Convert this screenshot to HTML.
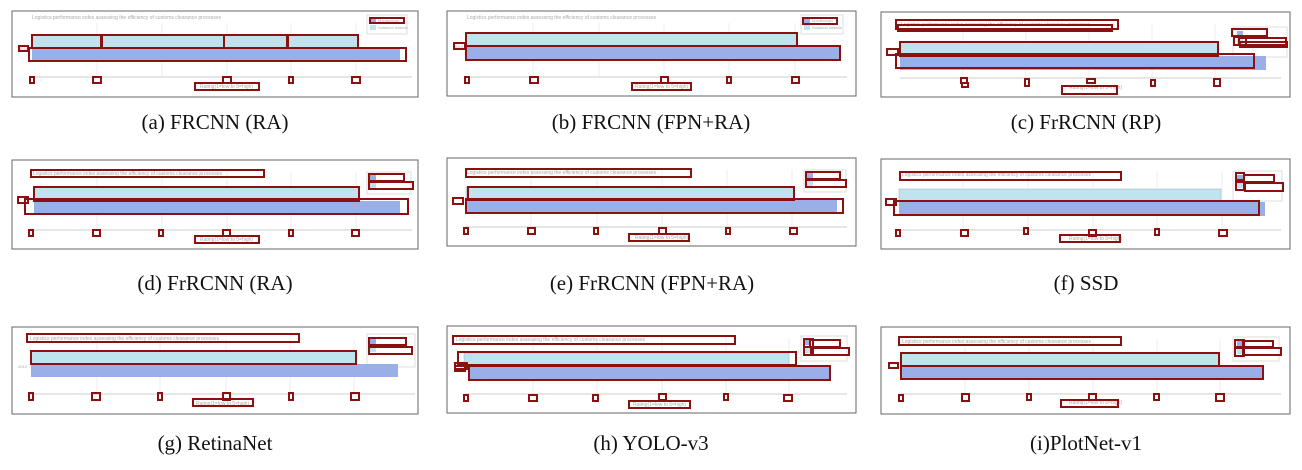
<!DOCTYPE html>
<html><head><meta charset="utf-8"><style>
html,body{margin:0;padding:0;background:#fff;width:1302px;height:470px;overflow:hidden}
svg{display:block}
.t{font-family:"Liberation Sans",sans-serif;fill:#aaa}
.cap{font-family:"Liberation Serif",serif;font-size:21px;fill:#111}
.r{fill:none;stroke:#8b1010;stroke-width:2}
</style></head><body>
<svg width="1302" height="470" viewBox="0 0 1302 470" xmlns="http://www.w3.org/2000/svg">
<!-- PANEL a -->
<g transform="translate(12,11)">
<rect x="0" y="0" width="406" height="86" fill="#fff" stroke="#666"/>
<g stroke="#eee"><line x1="85" y1="12" x2="85" y2="66"/><line x1="150" y1="12" x2="150" y2="66"/><line x1="215" y1="12" x2="215" y2="66"/><line x1="279" y1="12" x2="279" y2="66"/><line x1="344" y1="12" x2="344" y2="66"/></g>
<line x1="19" y1="66" x2="400" y2="66" stroke="#ccc"/>
<text class="t" x="20" y="8" font-size="5">Logistics performance index assessing the efficiency of customs clearance processes</text>
<rect x="355" y="4" width="40" height="19" fill="#fff" stroke="#ddd"/><rect x="358" y="7" width="6" height="5" fill="#9aaee8"/><rect x="358" y="14" width="6" height="5" fill="#bfe3ef"/>
<text class="t" x="366" y="11" font-size="4">Montenegro</text><text class="t" x="366" y="18" font-size="4">Solomon Islands</text>
<rect x="20" y="24" width="326" height="13" fill="#bfe3ef" stroke="#aaa" stroke-width=".5"/><rect x="20" y="37" width="368" height="13" fill="#9aaee8"/>
<text class="t" x="7" y="39" font-size="4">2014</text>
<text class="t" x="188" y="77" font-size="5">Rating(1=low to 5=high)</text>
<g class="r"><rect x="20" y="24" width="69" height="13"/><rect x="90" y="24" width="122" height="13"/><rect x="212" y="24" width="63" height="13"/><rect x="276" y="24" width="70" height="13"/><rect x="17" y="37" width="377" height="13"/><rect x="7" y="35" width="9" height="5"/><rect x="358" y="7" width="34" height="5"/>
<rect x="18" y="66" width="4" height="6"/><rect x="81" y="66" width="8" height="6"/><rect x="211" y="66" width="8" height="6"/><rect x="277" y="66" width="4" height="6"/><rect x="340" y="66" width="8" height="6"/><rect x="183" y="72" width="64" height="7"/></g>
</g>
<!-- PANEL b -->
<g transform="translate(447,11)">
<rect x="0" y="0" width="409" height="85" fill="#fff" stroke="#666"/>
<g stroke="#eee"><line x1="86" y1="12" x2="86" y2="66"/><line x1="152" y1="12" x2="152" y2="66"/><line x1="217" y1="12" x2="217" y2="66"/><line x1="282" y1="12" x2="282" y2="66"/><line x1="348" y1="12" x2="348" y2="66"/></g>
<line x1="19" y1="66" x2="400" y2="66" stroke="#ccc"/>
<text class="t" x="20" y="8" font-size="5">Logistics performance index assessing the efficiency of customs clearance processes</text>
<rect x="354" y="4" width="42" height="19" fill="#fff" stroke="#ddd"/><rect x="357" y="7" width="6" height="5" fill="#9aaee8"/><rect x="357" y="14" width="6" height="5" fill="#bfe3ef"/>
<text class="t" x="365" y="11" font-size="4">Montenegro</text><text class="t" x="365" y="18" font-size="4">Solomon Islands</text>
<rect x="19" y="22" width="331" height="13" fill="#bfe3ef" stroke="#aaa" stroke-width=".5"/><rect x="19" y="35" width="374" height="14" fill="#9aaee8"/>
<text class="t" x="7" y="37" font-size="4">2014</text>
<text class="t" x="188" y="77" font-size="5">Rating(1=low to 5=high)</text>
<g class="r"><rect x="19" y="22" width="331" height="13"/><rect x="19" y="35" width="374" height="14"/><rect x="7" y="32" width="11" height="6"/><rect x="356" y="7" width="34" height="6"/>
<rect x="18" y="66" width="4" height="6"/><rect x="83" y="66" width="8" height="6"/><rect x="214" y="66" width="7" height="6"/><rect x="280" y="66" width="4" height="6"/><rect x="345" y="66" width="7" height="6"/><rect x="185" y="72" width="59" height="7"/></g>
</g>
<!-- PANEL c -->
<g transform="translate(881,12)">
<rect x="0" y="0" width="409" height="85" fill="#fff" stroke="#666"/>
<g stroke="#eee"><line x1="82" y1="12" x2="82" y2="66"/><line x1="145" y1="12" x2="145" y2="66"/><line x1="208" y1="12" x2="208" y2="66"/><line x1="271" y1="12" x2="271" y2="66"/><line x1="334" y1="12" x2="334" y2="66"/></g>
<line x1="19" y1="66" x2="400" y2="66" stroke="#ccc"/>
<text class="t" x="20" y="14" font-size="5">Logistics performance index assessing the efficiency of customs clearance processes</text>
<rect x="352" y="15" width="54" height="30" fill="#fff" stroke="#ddd"/><rect x="356" y="19" width="6" height="5" fill="#9aaee8"/><rect x="356" y="27" width="6" height="5" fill="#bfe3ef"/>
<g class="r"><rect x="15" y="8" width="222" height="9"/><rect x="17" y="13" width="214" height="6"/><rect x="351" y="17" width="35" height="7"/><rect x="353" y="25" width="12" height="8"/><rect x="358" y="26" width="47" height="7"/><rect x="359" y="30" width="47" height="5"/></g>
<rect x="19" y="30" width="318" height="14" fill="#bfe3ef" stroke="#aaa" stroke-width=".5"/><rect x="19" y="44" width="366" height="14" fill="#9aaee8"/>
<text class="t" x="188" y="77" font-size="5">Rating(1=low to 5=high)</text>
<g class="r"><rect x="19" y="30" width="318" height="14"/><rect x="15" y="42" width="358" height="14"/><rect x="6" y="37" width="11" height="6"/>
<rect x="80" y="66" width="6" height="5"/><rect x="81" y="71" width="6" height="4"/><rect x="144" y="67" width="4" height="7"/><rect x="206" y="67" width="8" height="4"/><rect x="270" y="68" width="4" height="6"/><rect x="333" y="67" width="6" height="7"/><rect x="181" y="74" width="55" height="8"/></g>
</g>
<!-- PANEL d -->
<g transform="translate(12,160)">
<rect x="0" y="0" width="406" height="89" fill="#fff" stroke="#666"/>
<g stroke="#eee"><line x1="85" y1="12" x2="85" y2="70"/><line x1="150" y1="12" x2="150" y2="70"/><line x1="215" y1="12" x2="215" y2="70"/><line x1="279" y1="12" x2="279" y2="70"/><line x1="344" y1="12" x2="344" y2="70"/></g>
<line x1="19" y1="70" x2="400" y2="70" stroke="#ccc"/>
<text class="t" x="21" y="15" font-size="5">Logistics performance index assessing the efficiency of customs clearance processes</text>
<rect x="355" y="12" width="44" height="22" fill="#fff" stroke="#ddd"/><rect x="358" y="15" width="6" height="5" fill="#9aaee8"/><rect x="358" y="23" width="6" height="5" fill="#bfe3ef"/>
<rect x="22" y="27" width="325" height="14" fill="#bfe3ef" stroke="#aaa" stroke-width=".5"/><rect x="22" y="41" width="366" height="14" fill="#9aaee8"/>
<text class="t" x="188" y="81" font-size="5">Rating(1=low to 5=high)</text>
<g class="r"><rect x="19" y="10" width="233" height="7"/><rect x="357" y="14" width="35" height="7"/><rect x="357" y="22" width="44" height="7"/><rect x="22" y="27" width="325" height="14"/><rect x="13" y="39" width="383" height="15"/><rect x="6" y="37" width="10" height="6"/>
<rect x="17" y="70" width="4" height="6"/><rect x="81" y="70" width="7" height="6"/><rect x="147" y="70" width="4" height="6"/><rect x="211" y="70" width="7" height="6"/><rect x="277" y="70" width="4" height="6"/><rect x="340" y="70" width="7" height="6"/><rect x="183" y="76" width="64" height="7"/></g>
</g>
<!-- PANEL e -->
<g transform="translate(447,158)">
<rect x="0" y="0" width="409" height="88" fill="#fff" stroke="#666"/>
<g stroke="#eee"><line x1="84" y1="12" x2="84" y2="69"/><line x1="150" y1="12" x2="150" y2="69"/><line x1="215" y1="12" x2="215" y2="69"/><line x1="280" y1="12" x2="280" y2="69"/><line x1="345" y1="12" x2="345" y2="69"/></g>
<line x1="18" y1="69" x2="400" y2="69" stroke="#ccc"/>
<text class="t" x="20" y="16" font-size="5">Logistics performance index assessing the efficiency of customs clearance processes</text>
<rect x="357" y="12" width="42" height="22" fill="#fff" stroke="#ddd"/><rect x="360" y="15" width="6" height="5" fill="#9aaee8"/><rect x="360" y="23" width="6" height="5" fill="#bfe3ef"/>
<rect x="19" y="29" width="328" height="13" fill="#bfe3ef" stroke="#aaa" stroke-width=".5"/><rect x="19" y="42" width="371" height="14" fill="#9aaee8"/>
<text class="t" x="188" y="81" font-size="5">Rating(1=low to 5=high)</text>
<g class="r"><rect x="19" y="11" width="225" height="8"/><rect x="359" y="14" width="34" height="7"/><rect x="359" y="22" width="40" height="7"/><rect x="21" y="29" width="326" height="13"/><rect x="19" y="41" width="377" height="14"/><rect x="6" y="40" width="10" height="6"/>
<rect x="17" y="70" width="4" height="6"/><rect x="81" y="70" width="7" height="6"/><rect x="147" y="70" width="4" height="6"/><rect x="212" y="70" width="7" height="6"/><rect x="279" y="70" width="4" height="6"/><rect x="343" y="70" width="7" height="6"/><rect x="182" y="76" width="60" height="7"/></g>
</g>
<!-- PANEL f -->
<g transform="translate(881,159)">
<rect x="0" y="0" width="409" height="90" fill="#fff" stroke="#666"/>
<g stroke="#eee"><line x1="82" y1="12" x2="82" y2="71"/><line x1="147" y1="12" x2="147" y2="71"/><line x1="212" y1="12" x2="212" y2="71"/><line x1="276" y1="12" x2="276" y2="71"/><line x1="341" y1="12" x2="341" y2="71"/></g>
<line x1="18" y1="71" x2="400" y2="71" stroke="#ccc"/>
<text class="t" x="21" y="17" font-size="5">Logistics performance index assessing the efficiency of customs clearance processes</text>
<rect x="352" y="12" width="49" height="30" fill="#fff" stroke="#ddd"/><rect x="356" y="16" width="6" height="5" fill="#9aaee8"/><rect x="356" y="24" width="6" height="5" fill="#bfe3ef"/>
<rect x="18" y="30" width="322" height="13" fill="#bfe3ef" stroke="#aaa" stroke-width=".5"/><rect x="18" y="43" width="366" height="14" fill="#9aaee8"/>
<text class="t" x="188" y="81" font-size="5">Rating(1=low to 5=high)</text>
<g class="r"><rect x="19" y="13" width="221" height="8"/><rect x="355" y="14" width="8" height="7"/><rect x="363" y="16" width="30" height="7"/><rect x="355" y="23" width="8" height="8"/><rect x="364" y="24" width="38" height="8"/><rect x="13" y="42" width="365" height="14"/><rect x="5" y="40" width="10" height="6"/>
<rect x="15" y="71" width="4" height="6"/><rect x="80" y="71" width="7" height="6"/><rect x="143" y="69" width="4" height="6"/><rect x="208" y="71" width="7" height="6"/><rect x="274" y="70" width="4" height="6"/><rect x="338" y="71" width="8" height="6"/><rect x="179" y="76" width="60" height="7"/></g>
</g>
<!-- PANEL g -->
<g transform="translate(12,327)">
<rect x="0" y="0" width="406" height="87" fill="#fff" stroke="#666"/>
<g stroke="#eee"><line x1="85" y1="12" x2="85" y2="67"/><line x1="148" y1="12" x2="148" y2="67"/><line x1="214" y1="12" x2="214" y2="67"/><line x1="278" y1="12" x2="278" y2="67"/><line x1="342" y1="12" x2="342" y2="67"/></g>
<line x1="19" y1="67" x2="403" y2="67" stroke="#ccc"/>
<text class="t" x="18" y="13" font-size="5">Logistics performance index assessing the efficiency of customs clearance processes</text>
<rect x="355" y="7" width="48" height="33" fill="#fff" stroke="#ddd"/><rect x="358" y="12" width="6" height="5" fill="#9aaee8"/><rect x="358" y="20" width="6" height="5" fill="#bfe3ef"/>
<rect x="19" y="24" width="325" height="13" fill="#bfe3ef" stroke="#aaa" stroke-width=".5"/><rect x="19" y="37" width="367" height="13" fill="#9aaee8"/>
<text class="t" x="6" y="41" font-size="4">2014</text>
<text class="t" x="184" y="78" font-size="5">Rating(1=low to 5=high)</text>
<g class="r"><rect x="15" y="7" width="272" height="8"/><rect x="357" y="11" width="37" height="7"/><rect x="357" y="20" width="43" height="7"/><rect x="19" y="24" width="325" height="13"/>
<rect x="17" y="66" width="4" height="7"/><rect x="80" y="66" width="8" height="7"/><rect x="146" y="66" width="4" height="7"/><rect x="211" y="66" width="7" height="7"/><rect x="277" y="66" width="4" height="7"/><rect x="339" y="66" width="8" height="7"/><rect x="181" y="72" width="60" height="7"/></g>
</g>
<!-- PANEL h -->
<g transform="translate(447,326)">
<rect x="0" y="0" width="409" height="87" fill="#fff" stroke="#666"/>
<g stroke="#eee"><line x1="86" y1="12" x2="86" y2="68"/><line x1="150" y1="12" x2="150" y2="68"/><line x1="215" y1="12" x2="215" y2="68"/><line x1="279" y1="12" x2="279" y2="68"/><line x1="342" y1="12" x2="342" y2="68"/></g>
<line x1="18" y1="68" x2="400" y2="68" stroke="#ccc"/>
<text class="t" x="9" y="15" font-size="5">Logistics performance index assessing the efficiency of customs clearance processes</text>
<rect x="354" y="10" width="46" height="25" fill="#fff" stroke="#ddd"/><rect x="358" y="14" width="6" height="5" fill="#9aaee8"/><rect x="358" y="22" width="6" height="5" fill="#bfe3ef"/>
<rect x="17" y="27" width="325" height="13" fill="#bfe3ef" stroke="#aaa" stroke-width=".5"/><rect x="22" y="40" width="361" height="14" fill="#9aaee8"/>
<text class="t" x="186" y="80" font-size="5">Rating(1=low to 5=high)</text>
<g class="r"><rect x="6" y="10" width="282" height="8"/><rect x="357" y="13" width="9" height="8"/><rect x="357" y="21" width="9" height="8"/><rect x="363" y="14" width="30" height="7"/><rect x="364" y="22" width="38" height="7"/><rect x="11" y="26" width="338" height="13"/><rect x="22" y="40" width="361" height="14"/><rect x="8" y="37" width="12" height="6"/><rect x="8" y="40" width="10" height="5"/>
<rect x="17" y="69" width="4" height="6"/><rect x="82" y="69" width="8" height="6"/><rect x="146" y="69" width="5" height="6"/><rect x="212" y="68" width="7" height="6"/><rect x="277" y="68" width="4" height="6"/><rect x="337" y="69" width="8" height="6"/><rect x="182" y="75" width="61" height="7"/></g>
</g>
<!-- PANEL i -->
<g transform="translate(881,327)">
<rect x="0" y="0" width="409" height="87" fill="#fff" stroke="#666"/>
<g stroke="#eee"><line x1="84" y1="12" x2="84" y2="67"/><line x1="148" y1="12" x2="148" y2="67"/><line x1="212" y1="12" x2="212" y2="67"/><line x1="276" y1="12" x2="276" y2="67"/><line x1="339" y1="12" x2="339" y2="67"/></g>
<line x1="20" y1="67" x2="400" y2="67" stroke="#ccc"/>
<text class="t" x="21" y="16" font-size="5">Logistics performance index assessing the efficiency of customs clearance processes</text>
<rect x="352" y="10" width="46" height="24" fill="#fff" stroke="#ddd"/><rect x="356" y="14" width="6" height="5" fill="#9aaee8"/><rect x="356" y="22" width="6" height="5" fill="#bfe3ef"/>
<rect x="20" y="26" width="318" height="13" fill="#bfe3ef" stroke="#aaa" stroke-width=".5"/><rect x="20" y="39" width="362" height="13" fill="#9aaee8"/>
<text class="t" x="188" y="77" font-size="5">Rating(1=low to 5=high)</text>
<g class="r"><rect x="18" y="10" width="222" height="8"/><rect x="354" y="13" width="9" height="7"/><rect x="354" y="21" width="9" height="8"/><rect x="362" y="14" width="30" height="6"/><rect x="362" y="21" width="38" height="7"/><rect x="20" y="26" width="318" height="13"/><rect x="20" y="39" width="362" height="13"/><rect x="8" y="36" width="9" height="5"/>
<rect x="18" y="68" width="4" height="6"/><rect x="81" y="67" width="7" height="7"/><rect x="146" y="67" width="4" height="6"/><rect x="208" y="67" width="7" height="6"/><rect x="273" y="67" width="5" height="6"/><rect x="335" y="67" width="8" height="7"/><rect x="180" y="73" width="57" height="7"/></g>
</g>
<!-- captions -->
<g class="cap" text-anchor="middle">
<text x="215" y="129">(a) FRCNN (RA)</text>
<text x="651" y="129">(b) FRCNN (FPN+RA)</text>
<text x="1086" y="129">(c) FrRCNN (RP)</text>
<text x="215" y="290">(d) FrRCNN (RA)</text>
<text x="652" y="290">(e) FrRCNN (FPN+RA)</text>
<text x="1086" y="290">(f) SSD</text>
<text x="215" y="450">(g) RetinaNet</text>
<text x="651" y="450">(h) YOLO-v3</text>
<text x="1086" y="450">(i)PlotNet-v1</text>
</g>
</svg>
</body></html>
